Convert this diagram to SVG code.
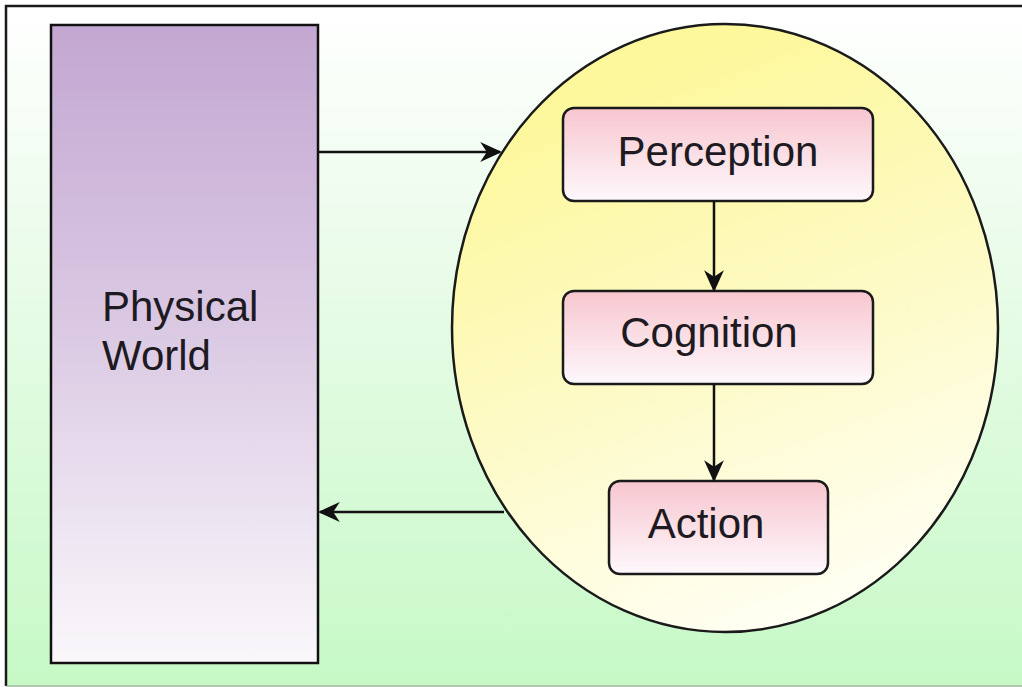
<svg xmlns="http://www.w3.org/2000/svg" width="1022" height="687" viewBox="0 0 1022 687">
<style>
.lbl{font-family:"Liberation Sans",Arial,sans-serif;font-size:42px;fill:#1e1a22}
.box{stroke:#1a1a1a;stroke-width:2.5;fill:url(#gBox)}
.con{stroke:#111;stroke-width:2.5;fill:none}
</style>
<defs>
<linearGradient id="gBg" x1="0" y1="0" x2="0" y2="1">
<stop offset="0" stop-color="#ffffff"/>
<stop offset="0.3" stop-color="#eefcee"/>
<stop offset="1" stop-color="#c6f9c6"/>
</linearGradient>
<linearGradient id="gPW" x1="0" y1="0" x2="0" y2="1">
<stop offset="0" stop-color="#c3a7d2"/>
<stop offset="0.5" stop-color="#dccbe4"/>
<stop offset="1" stop-color="#faf8fb"/>
</linearGradient>
<linearGradient id="gEl" x1="0.3" y1="0.1" x2="0.6" y2="1">
<stop offset="0" stop-color="#fdf89c"/>
<stop offset="0.5" stop-color="#fdfac6"/>
<stop offset="1" stop-color="#fffff4"/>
</linearGradient>
<linearGradient id="gBox" x1="0" y1="0" x2="0" y2="1">
<stop offset="0" stop-color="#f8c6cf"/>
<stop offset="1" stop-color="#fdf8fc"/>
</linearGradient>
<marker id="ahB" viewBox="0 0 10 10" refX="9" refY="5" markerWidth="22" markerHeight="22" markerUnits="userSpaceOnUse" orient="auto">
<path d="M0,0.5 L10,5 L0,9.5 L3,5 Z" fill="#111"/>
</marker>
</defs>
<rect x="6" y="6" width="1020" height="684" fill="url(#gBg)"/>
<path d="M6,686 V6 H1022" fill="none" stroke="#1a1a1a" stroke-width="2.5"/>
<path d="M6,686 H1022" fill="none" stroke="#999" stroke-width="1"/>
<g id="physical-world">
<rect x="51" y="25" width="267" height="638" fill="url(#gPW)" stroke="#111" stroke-width="2.5"/>
<text class="lbl" x="102" y="321">Physical</text>
<text class="lbl" x="102" y="370">World</text>
</g>
<g id="agent">
<ellipse cx="725" cy="328" rx="273" ry="304" fill="url(#gEl)" stroke="#1a1a1a" stroke-width="2.5"/>
</g>
<g id="perception">
<rect class="box" x="563" y="108" width="310" height="93" rx="11"/>
<text class="lbl" x="718" y="166" text-anchor="middle">Perception</text>
</g>
<g id="cognition">
<rect class="box" x="563" y="291" width="310" height="93" rx="11"/>
<text class="lbl" x="709" y="347" text-anchor="middle">Cognition</text>
</g>
<g id="action">
<rect class="box" x="609" y="481" width="219" height="93" rx="11"/>
<text class="lbl" x="706" y="538" text-anchor="middle">Action</text>
</g>
<g id="connectors">
<line class="con" x1="318" y1="152" x2="500" y2="152" marker-end="url(#ahB)"/>
<line class="con" x1="504" y1="512" x2="320" y2="512" marker-end="url(#ahB)"/>
<line class="con" x1="714" y1="201" x2="714" y2="290" marker-end="url(#ahB)"/>
<line class="con" x1="714" y1="384" x2="714" y2="480" marker-end="url(#ahB)"/>
</g>
</svg>
